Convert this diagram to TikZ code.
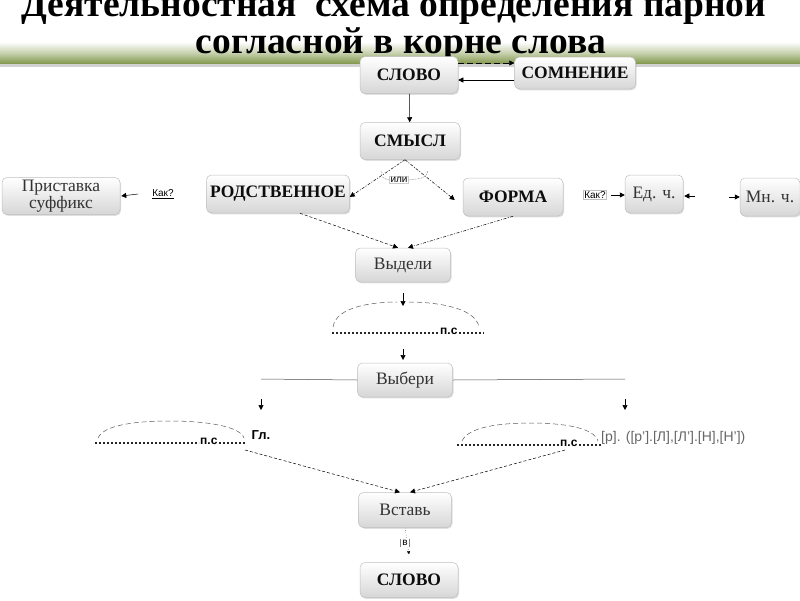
\documentclass[tikz,border=0pt]{standalone}
\usepackage{fontspec}
\setmainfont{Liberation Serif}
\setsansfont{Liberation Sans}
\usetikzlibrary{arrows.meta,shadows,calc}
\definecolor{bandgreen}{RGB}{128,150,72}
\begin{document}
\begin{tikzpicture}[x=1pt,y=-1pt,
 box/.style={draw=gray!50, line width=0.5pt, rounded corners=5pt, top color=white, bottom color=gray!32,
   text=black!80, inner sep=0pt, align=center,
   drop shadow={opacity=0.25,shadow xshift=1pt,shadow yshift=-1.3pt},
   font=\fontsize{17.5}{18}\selectfont},
 bbox/.style={box, font=\bfseries\fontsize{17.5}{18}\selectfont, text=black!95},
 tip/.style={-{Triangle[length=5pt,width=5pt]}, line width=0.5pt},
 dsh/.style={tip, dash pattern=on 3pt off 2pt},
 dshd/.style={tip, dash pattern=on 3pt off 1.5pt on 1pt off 1.5pt},
 arcd/.style={gray!70!black, line width=0.5pt, dash pattern=on 5pt off 3pt},
 small/.style={font=\sffamily\fontsize{10}{12}\selectfont, inner sep=1pt},
 pstext/.style={font=\sffamily\bfseries\fontsize{12}{14}\selectfont, inner sep=0pt, anchor=base west},
 dotline/.style={line width=1.8pt, black!85, dash pattern=on 1.7pt off 2.3pt},
]
\useasboundingbox (0,0) rectangle (800,600);
% green band
\shade[top color=white, bottom color=bandgreen, middle color=bandgreen!45] (0,42) rectangle (800,64);
\fill[gray!35] (0,64) rectangle (800,67);
% title
\node[font=\bfseries\fontsize{37.5}{40}\selectfont, anchor=base, inner sep=0pt] (t1) at (394,16) {Деятельностная\ \ схема определения парной};
\node[font=\bfseries\fontsize{37.5}{40}\selectfont, anchor=base, inner sep=0pt] (t2) at (401,53) {согласной в корне слова};

% boxes
\node[bbox, minimum width=98pt, minimum height=37pt] (slovo1) at (409,75) {СЛОВО};
\node[bbox, minimum width=121pt, minimum height=32pt] (somn) at (575,73) {СОМНЕНИЕ};
\node[bbox, minimum width=100pt, minimum height=37pt] (smysl) at (410,141) {СМЫСЛ};
\node[bbox, minimum width=143pt, minimum height=38pt] (rodstv) at (278,194) {РОДСТВЕННОЕ};
\node[box, minimum width=118pt, minimum height=37pt, font=\fontsize{17.5}{17}\selectfont] (prist) at (61,196) {Приставка\\суффикс};
\node[bbox, minimum width=100pt, minimum height=38pt] (forma) at (513,197) {ФОРМА};
\node[box, minimum width=58pt, minimum height=38pt] (ed) at (654,194) {Ед. ч.};
\node[box, minimum width=60pt, minimum height=38pt] (mn) at (770,197) {Мн. ч.};
\node[box, minimum width=95pt, minimum height=34pt] (vydeli) at (403,265) {Выдели};
\node[box, minimum width=95pt, minimum height=34pt] (vyberi) at (405,380) {Выбери};
\node[box, minimum width=93pt, minimum height=35pt] (vstav) at (405,510) {Вставь};
\node[bbox, minimum width=98pt, minimum height=35pt] (slovo2) at (409,580) {СЛОВО};

% top connections
\draw[dsh, dash pattern=on 6pt off 3pt] ([yshift=12pt]slovo1.east) -- ([yshift=12pt]slovo1.east -| somn.west);
\draw[tip] ([yshift=-7pt]somn.west) -- ([yshift=-7pt]somn.west -| slovo1.east);
\draw[tip] (slovo1) -- (smysl);

% или
\draw[dshd] ([xshift=-5pt]smysl.south) -- ([yshift=-3pt]rodstv.east);
\draw[dshd] ([xshift=-5pt]smysl.south) -- ([xshift=-8pt,yshift=-3pt]forma.west);
\node[small, draw=gray!40, fill=white] (ili) at (399,180) {или};
\draw[gray, line width=0.4pt, dash pattern=on 2pt off 1pt] (381,171) .. controls (382,178) .. (ili.west);
\draw[gray, line width=0.4pt, dash pattern=on 2pt off 1pt] (ili.east) .. controls (425,178) .. (428,171);

% Как? left
\node[small] (kak1) at (163,194) {\underline{Как?}};
\draw[tip] ([xshift=-13pt]kak1.west) -- ([xshift=1pt]prist.east);
% Как? right
\node[small, draw=gray!50, fill=white] (kak2) at (595,195) {Как?};
\draw[tip] ([xshift=4pt]kak2.east) -- (ed.west |- kak2.east);
\coordinate (edst) at (695,196);
\draw[tip] (edst) -- ([xshift=1pt]ed.east |- edst);
\coordinate (mnst) at (729,197);
\draw[tip] (mnst) -- (mn.west);

% to Выдели
\draw[dsh] ([xshift=22pt]rodstv.south) -- ([xshift=-5pt]vydeli.north);
\draw[dshd] (forma.south) -- ([xshift=5pt]vydeli.north);

% first п.с
\coordinate (a1s) at (403,293);
\coordinate (a1e) at (403,306);
\draw[tip] (a1s) -- (a1e);
\draw[arcd] (333,327) .. controls (336,306) and (375,302) .. (397,302);
\draw[arcd] (409,302) .. controls (431,302) and (475,306) .. (479,327);
\node[pstext] (ps1) at (440,334) {п.с};
\draw[dotline] (332,333) -- ([xshift=-1pt,yshift=1pt]ps1.base west);
\draw[dotline] ([xshift=1.5pt,yshift=1pt]ps1.base east) -- (484,333);
\coordinate (a2s) at (403,349);
\coordinate (a2e) at (403,360);
\draw[tip] (a2s) -- (a2e);

% Выбери branches
\coordinate (lc) at (261,379);
\coordinate (rc) at (625,379);
\draw[line width=0.5pt, black!70] (vyberi.west) -- (lc);
\draw[line width=0.5pt, black!70] (vyberi.east) -- (rc);
\coordinate (la) at (261,399);
\coordinate (lb) at (261,410);
\coordinate (ra) at (625,399);
\coordinate (rb) at (625,410);
\draw[tip] (la) -- (lb);
\draw[tip] (ra) -- (rb);

% left п.с
\draw[arcd] (98,438) .. controls (104,424) and (140,421) .. (170,421) .. controls (205,421) and (240,426) .. (244,438);
\node[pstext] (ps2) at (200,444) {п.с};
\draw[dotline] (95,443) -- ([xshift=-1pt,yshift=1pt]ps2.base west);
\draw[dotline] ([xshift=1.5pt,yshift=1pt]ps2.base east) -- (246,443);
\node[font=\sffamily\bfseries\fontsize{13}{15}\selectfont, inner sep=0pt] (gl) at (261,435) {Гл.};

% right п.с
\draw[arcd] (462,441) .. controls (468,427) and (500,423) .. (530,423) .. controls (565,423) and (594,428) .. (598,441);
\node[pstext] (ps3) at (560,446) {п.с};
\draw[dotline] (457,445) -- ([xshift=-1pt,yshift=1pt]ps3.base west);
\draw[dotline] ([xshift=1.5pt,yshift=1pt]ps3.base east) -- (601,445);
\node[font=\sffamily\fontsize{14}{16}\selectfont, text=black!60, inner sep=0pt, anchor=west] (phon) at (601,438) {[р]. ([р'].[Л],[Л'].[Н],[Н'])};

% to Вставь
\coordinate (lps) at (245,450);
\coordinate (rps) at (565,450);
\draw[dsh] (lps) -- ([xshift=-5pt]vstav.north);
\draw[dsh] (rps) -- ([xshift=5pt]vstav.north);

% в
\draw[line width=0.4pt, dotted, -{Triangle[length=3pt,width=3pt]}] (vstav.south) -- ([yshift=8pt]slovo2.north);
\node[font=\sffamily\fontsize{10}{12}\selectfont, fill=white, inner sep=1.5pt] (v) at (405,543) {в};
\draw[gray, line width=0.4pt] (v.north west) -- (v.south west) (v.north east) -- (v.south east);
\end{tikzpicture}
\end{document}
